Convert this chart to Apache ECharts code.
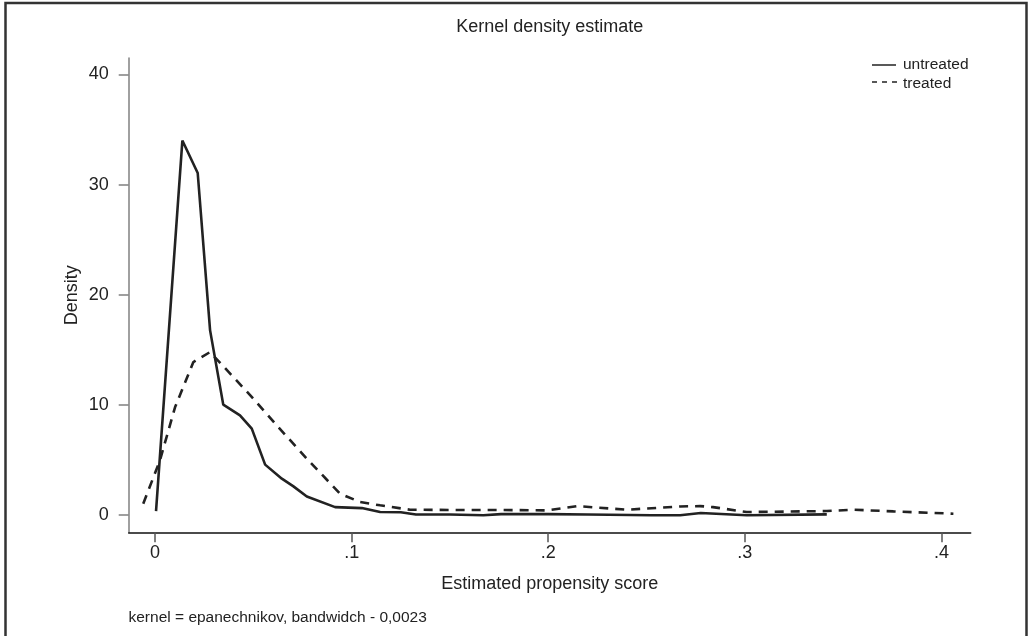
<!DOCTYPE html>
<html>
<head>
<meta charset="utf-8">
<script src="https://cdn.jsdelivr.net/npm/echarts@6/dist/echarts.min.js"></script>
<style>
html,body{margin:0;padding:0;background:#fff;}
#chart{width:1029px;height:636px;}
</style>
</head>
<body>
<div id="chart"></div>
<script>
// ---- data ----
var titleText = 'Kernel density estimate';
var xAxisName = 'Estimated propensity score';
var yAxisName = 'Density';
var noteText = 'kernel = epanechnikov, bandwidch - 0,0023';
var seriesNames = ['untreated', 'treated'];

var xTicks = [0, 0.1, 0.2, 0.3, 0.4];
var xTickLabels = ['0', '.1', '.2', '.3', '.4'];
var yTicks = [0, 10, 20, 30, 40];

var untreatedX = [0.0005, 0.0139, 0.0217, 0.028, 0.0347, 0.0432, 0.0492, 0.056, 0.0645, 0.0704, 0.0772, 0.0916, 0.1052, 0.1145, 0.125, 0.1327, 0.15, 0.167, 0.176, 0.2, 0.22, 0.2526, 0.2671, 0.2776, 0.301, 0.3417];
var untreatedY = [0.33, 34.0, 31.05, 16.75, 10.0, 9.03, 7.82, 4.55, 3.27, 2.57, 1.66, 0.69, 0.6, 0.24, 0.22, 0.02, 0.02, -0.05, 0.05, 0.05, 0.02, -0.05, -0.05, 0.15, -0.05, 0.03];

var treatedX = [-0.006, 0.0025, 0.0102, 0.0195, 0.0235, 0.028, 0.0382, 0.05, 0.0619, 0.0772, 0.0941, 0.1043, 0.1145, 0.1297, 0.15, 0.1755, 0.1993, 0.2146, 0.24, 0.2671, 0.2772, 0.2838, 0.3009, 0.3417, 0.3552, 0.3756, 0.4061];
var treatedY = [1.0, 4.94, 9.78, 13.87, 14.3, 14.78, 12.82, 10.55, 8.12, 5.09, 1.91, 1.15, 0.85, 0.45, 0.43, 0.43, 0.39, 0.78, 0.45, 0.75, 0.78, 0.69, 0.24, 0.33, 0.45, 0.3, 0.09];

function pairs(xs, ys) { return xs.map(function (x, i) { return [x, ys[i]]; }); }

var FONT = '"Liberation Sans", Arial, Helvetica, sans-serif';
var INK = '#222';

var chart = echarts.init(document.getElementById('chart'), null, {renderer: 'canvas'});
var option = {
  backgroundColor: '#fff',
  animation: false,
  textStyle: {fontFamily: FONT, color: INK},
  grid: {left: 128.7, right: 58.3, top: 58, bottom: 103.7, containLabel: false, outerBoundsMode: 'none'},
  legend: {
    orient: 'vertical',
    left: 872, top: 55,
    padding: 0,
    itemWidth: 24, itemHeight: 19, itemGap: 2,
    textStyle: {fontSize: 15.5, color: INK, fontFamily: FONT, padding: [0, 0, 0, 2]},
    data: [
      {name: seriesNames[0], icon: 'none'},
      {name: seriesNames[1], icon: 'none'}
    ]
  },
  xAxis: {
    type: 'value',
    min: -0.0134, max: 0.4149,
    name: xAxisName, nameLocation: 'middle', nameGap: 43, nameMoveOverlap: false,
    nameTextStyle: {fontSize: 18, color: INK, fontFamily: FONT},
    axisLine: {show: true, onZero: false, lineStyle: {color: '#111', width: 1.5}},
    axisTick: {show: true, length: 10, customValues: xTicks, lineStyle: {color: '#555', width: 1.5}},
    axisLabel: {show: true, margin: 12, fontSize: 18, color: INK, fontFamily: FONT, customValues: xTicks,
      formatter: function (v) { var i = xTicks.indexOf(v); return i >= 0 ? xTickLabels[i] : ''; }},
    splitLine: {show: false}
  },
  yAxis: {
    type: 'value',
    min: -1.6, max: 41.5,
    name: yAxisName, nameLocation: 'middle', nameGap: 48, nameRotate: 90, nameMoveOverlap: false,
    nameTextStyle: {fontSize: 18, color: INK, fontFamily: FONT},
    axisLine: {show: true, onZero: false, lineStyle: {color: '#808080', width: 1.5}},
    axisTick: {show: true, length: 10, customValues: yTicks, lineStyle: {color: '#808080', width: 1.5}},
    axisLabel: {show: true, margin: 20, fontSize: 18, color: INK, fontFamily: FONT, customValues: yTicks},
    splitLine: {show: false}
  },
  series: [
    {
      name: seriesNames[0], type: 'line', data: pairs(untreatedX, untreatedY),
      showSymbol: false, symbol: 'none', smooth: false,
      lineStyle: {color: INK, width: 2.6, type: 'solid'},
      itemStyle: {color: INK}
    },
    {
      name: seriesNames[1], type: 'line', data: pairs(treatedX, treatedY),
      showSymbol: false, symbol: 'none', smooth: false,
      lineStyle: {color: INK, width: 2.6, type: [9, 7]},
      itemStyle: {color: INK}
    }
  ],
  graphic: [
    {type: 'rect', silent: true, shape: {x: 5.5, y: 3, width: 1021, height: 700},
     style: {fill: 'none', stroke: '#333', lineWidth: 2.5}},
    {type: 'text', silent: true, x: 549.7, y: 26.7,
     style: {text: titleText, textAlign: 'center', textVerticalAlign: 'middle', font: '18px ' + FONT, fill: INK}},
    {type: 'text', silent: true, x: 128.5, y: 618,
     style: {text: noteText, textAlign: 'left', textVerticalAlign: 'middle', font: '15.5px ' + FONT, fill: INK}},
    // legend keys
    {type: 'line', silent: true, shape: {x1: 872, y1: 65, x2: 896, y2: 65}, style: {stroke: INK, lineWidth: 1.5}},
    {type: 'line', silent: true, shape: {x1: 872, y1: 82, x2: 897, y2: 82}, style: {stroke: INK, lineWidth: 1.5, lineDash: [5, 5]}}
  ]
};
chart.setOption(option);
</script>
</body>
</html>
